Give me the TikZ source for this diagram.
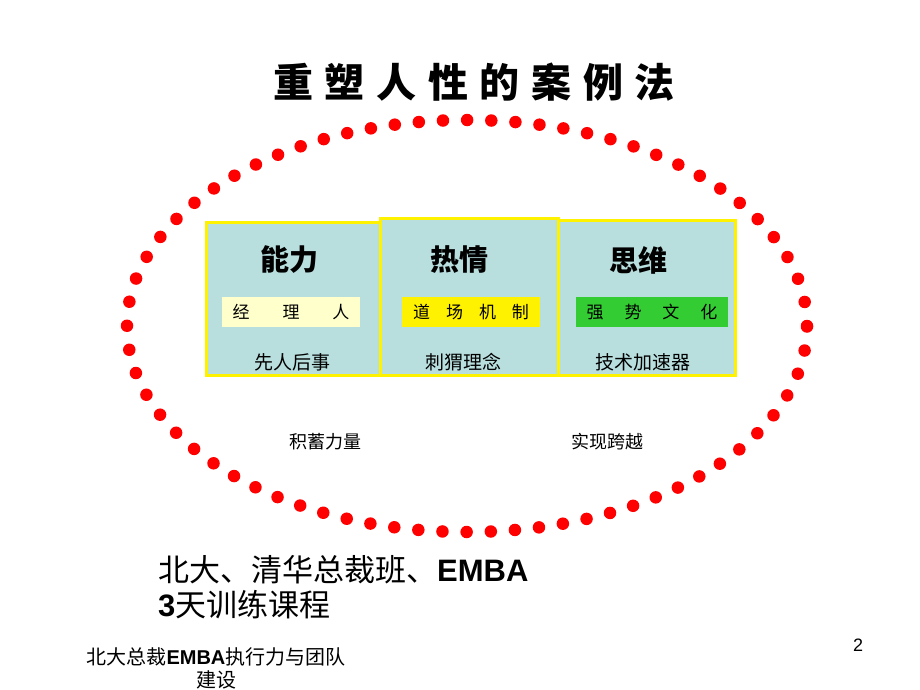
\documentclass[tikz,border=0pt]{standalone}
\usepackage{fontspec}
\setmainfont{Liberation Sans}
\newfontfamily\cjk{Noto Sans CJK SC}
\usetikzlibrary{positioning}
\definecolor{panelfill}{RGB}{184,222,222}
\definecolor{palegold}{RGB}{255,255,204}
\definecolor{leafgreen}{RGB}{51,204,51}
\tikzset{
	panel/.style={draw=yellow,line width=3pt,fill=panelfill,inner sep=0pt},
	heading/.style={font=\cjk\bfseries\fontsize{29}{29}\selectfont},
	tag/.style={minimum height=30pt,inner sep=0pt,font=\cjk\fontsize{17}{17}\selectfont},
	motto/.style={font=\cjk\fontsize{19}{19}\selectfont},
	stage/.style={font=\cjk\fontsize{18}{18}\selectfont},
	titlechar/.style={font=\cjk\bfseries\fontsize{40}{40}\selectfont},
	dotring/.style={red,line width=12.5pt,line cap=round,dash pattern=on 0pt off 24.18pt}
}
\begin{document}
\begin{tikzpicture}[x=1pt,y=-1pt]
						\useasboundingbox[fill=white] (0,0) rectangle (920,690);
						\foreach \c [count=\i from 0] in {重,塑,人,性,的,案,例,法}
							\node[titlechar] (title\i) at (293+51.7*\i,82) {\c};
						\draw[dotring] (467,326) ellipse [x radius=340pt,y radius=206pt];
						\node[panel,minimum width=174pt,minimum height=153pt] (nengli) at (293,298.5) {};
						\node[panel,minimum width=178pt,minimum height=157pt] (reqing) at (469,296.5) {};
						\node[panel,minimum width=177pt,minimum height=155pt] (siwei) at (646.5,297.5) {};
						\node[heading] (nengliTitle) at (289,260) {能力};
						\node[heading] (reqingTitle) at (459,260) {热情};
						\node[heading] (siweiTitle) at (638,260) {思维};
						\node[tag,fill=palegold,minimum width=138pt] (manager) at (291,312) {经\hspace{33pt}理\hspace{33pt}人};
						\node[tag,fill=yellow,minimum width=138pt] (dojo) at (471,312) {道\hspace{16pt}场\hspace{16pt}机\hspace{16pt}制};
						\node[tag,fill=leafgreen,minimum width=152pt] (culture) at (652,312) {强\hspace{21pt}势\hspace{21pt}文\hspace{21pt}化};
						\node[motto] (people) at (292,362) {先人后事};
						\node[motto] (hedgehog) at (463,362) {刺猬理念};
						\node[motto] (booster) at (643,362) {技术加速器};
						\node[stage] (build) at (325,442) {积蓄力量};
						\node[stage] (leap) at (607,442) {实现跨越};
						\node[anchor=north west,align=left,inner sep=0pt,font=\fontsize{31}{35}\selectfont] (course) at (158,555)
							{{\cjk 北大、清华总裁班、}{\bfseries EMBA}\\{\bfseries 3}{\cjk 天训练课程}};
						\node[align=center,inner sep=0pt,font=\fontsize{20}{23}\selectfont] (footer) at (216,668)
							{{\cjk 北大总裁}{\bfseries EMBA}{\cjk 执行力与团队}\\{\cjk 建设}};
						\node[font=\fontsize{18}{18}\selectfont] (page) at (858,645) {2};
					\end{tikzpicture}
\end{document}
